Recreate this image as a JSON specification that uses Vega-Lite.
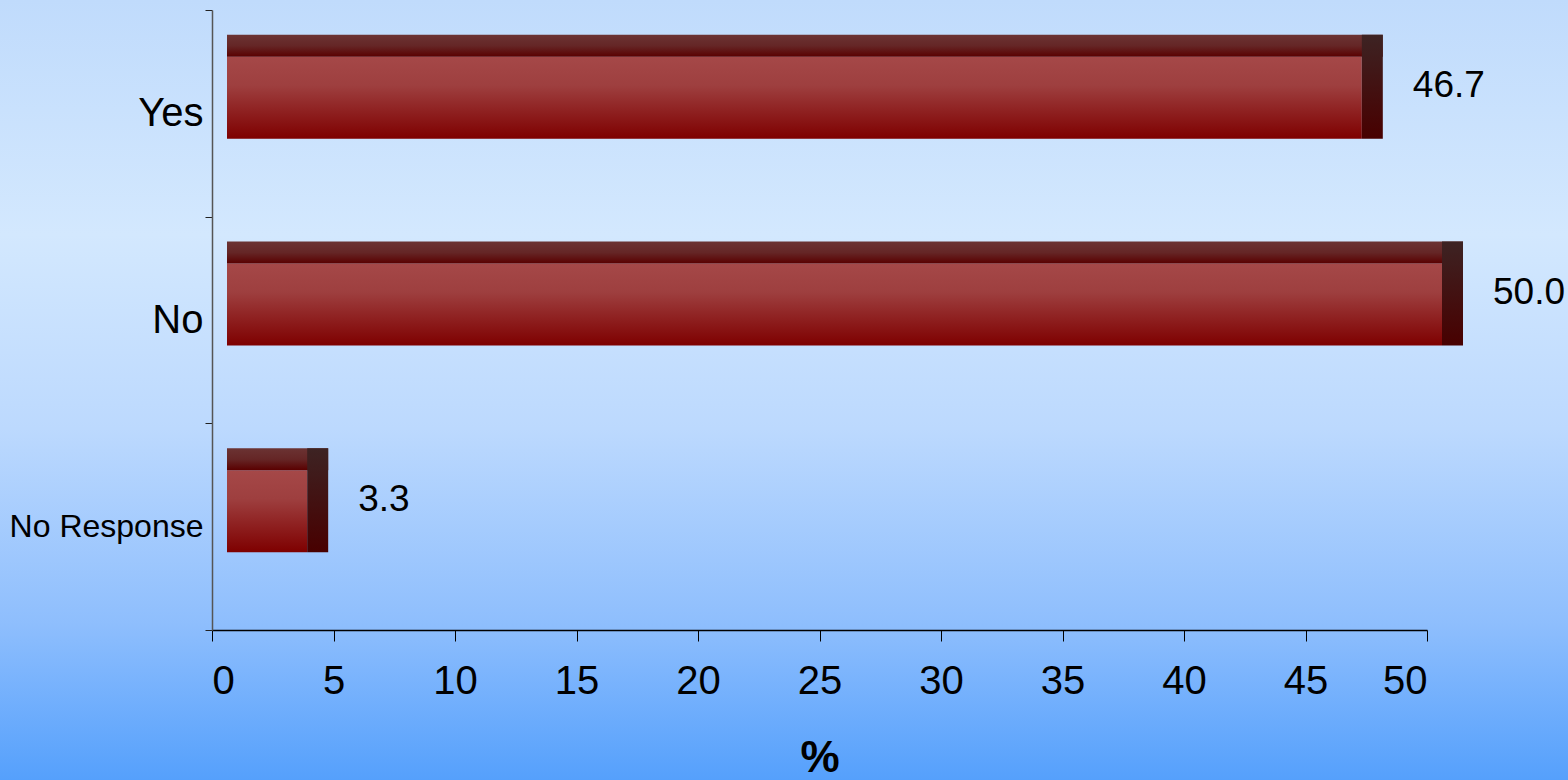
{
  "$schema": "https://vega.github.io/schema/vega-lite/v6.json",
  "width": 1568,
  "height": 780,
  "autosize": {"type": "none"},
  "padding": 0,
  "background": "#8fbffd",
  "config": {
    "view": {
      "stroke": null,
      "fill": {
        "gradient": "linear", "x1": 0, "y1": 0, "x2": 0, "y2": 1,
        "stops": [
          {"offset": 0, "color": "#c0dbfc"},
          {"offset": 0.3, "color": "#d3e8fe"},
          {"offset": 0.55, "color": "#bcd9fe"},
          {"offset": 0.8, "color": "#8ebefd"},
          {"offset": 1, "color": "#55a0fc"}
        ]
      }
    },
    "font": "Liberation Sans, Arial"
  },
  "data": {
    "values": [
      {"resp": "Yes", "pct": 46.7},
      {"resp": "No", "pct": 50.0},
      {"resp": "No Response", "pct": 3.3}
    ]
  },
  "encoding": {
    "y": {
      "field": "resp", "type": "nominal", "sort": null,
      "scale": {"range": [10, 630], "paddingInner": 0, "paddingOuter": 0},
      "axis": {
        "title": null, "orient": "left", "offset": -212,
        "tickBand": "extent", "tickSize": 7, "tickColor": "#222222",
        "domainColor": "#555555", "domainWidth": 1.5,
        "labelFontSize": {"condition": {"test": "datum.value === 'No Response'", "value": 32}, "value": 40},
        "labelColor": "#000000", "labelPadding": 2,
        "labelLimit": 0
      }
    },
    "x": {
      "field": "pct", "type": "quantitative",
      "scale": {"domain": [0, 50], "range": [212, 1427], "nice": false, "zero": true},
      "axis": {
        "title": "%", "orient": "bottom", "offset": -150,
        "values": [0, 5, 10, 15, 20, 25, 30, 35, 40, 45, 50],
        "grid": false, "tickSize": 11, "tickColor": "#000000",
        "domainColor": "#000000", "domainWidth": 1.5,
        "labelFontSize": 40, "labelColor": "#000000", "labelPadding": 20,
        "titleFontSize": 44, "titleFontWeight": "bold", "titleColor": "#000000",
        "titleBaseline": "top", "titleY": 106
      }
    }
  },
  "layer": [
    {
      "mark": {
        "type": "bar", "height": 82, "yOffset": -15.5, "xOffset": 15, "x2Offset": 15,
        "fill": {
          "gradient": "linear", "x1": 0, "y1": 0, "x2": 0, "y2": 1,
          "stops": [
            {"offset": 0, "color": "#a54848"},
            {"offset": 0.35, "color": "#9e3f3f"},
            {"offset": 1, "color": "#7e0000"}
          ]
        }
      },
      "encoding": {
        "x2": {"datum": 0}
      }
    },
    {
      "mark": {
        "type": "bar", "height": 22, "yOffset": -67.5, "xOffset": 36, "x2Offset": 15,
        "fill": {
          "gradient": "linear", "x1": 0, "y1": 0, "x2": 0, "y2": 1,
          "stops": [
            {"offset": 0, "color": "#6b3333"},
            {"offset": 0.5, "color": "#652626"},
            {"offset": 1, "color": "#5a0000"}
          ]
        }
      },
      "encoding": {
        "x2": {"datum": 0}
      }
    },
    {
      "mark": {
        "type": "bar", "height": 104, "yOffset": -26.5, "xOffset": 15, "x2Offset": 36,
        "fill": {
          "gradient": "linear", "x1": 0, "y1": 0, "x2": 0, "y2": 1,
          "stops": [
            {"offset": 0, "color": "#3d2323"},
            {"offset": 1, "color": "#480000"}
          ]
        }
      },
      "encoding": {
        "x2": {"field": "pct"}
      }
    },
    {
      "mark": {
        "type": "text", "align": "left", "baseline": "middle", "dx": 66, "dy": -27,
        "fontSize": 37, "color": "#000000"
      },
      "encoding": {
        "text": {"field": "pct", "type": "quantitative", "format": ".1f"}
      }
    }
  ]
}
